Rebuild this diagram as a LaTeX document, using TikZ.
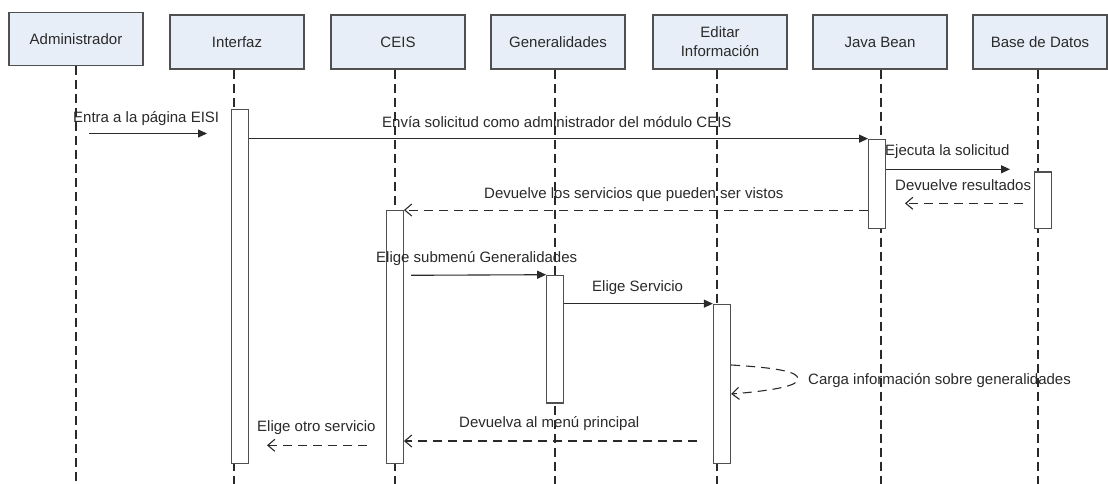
\documentclass[tikz,border=0pt]{standalone}
\usepackage{fontspec}
\setmainfont{Liberation Sans}
\usetikzlibrary{arrows.meta}
\definecolor{boxfill}{HTML}{E8EEF8}
\definecolor{edge}{HTML}{505050}
\definecolor{ink}{HTML}{2A2A2A}
\begin{document}
\begin{tikzpicture}[x=1pt,y=-1pt,
  font=\fontsize{15}{19}\selectfont,
  actor/.style={draw=edge, line width=1.3pt, fill=boxfill, minimum width=134pt, minimum height=54pt, inner sep=0pt, text=ink, align=center},
  life/.style={draw=ink, line width=1.2pt, dash pattern=on 9pt off 5pt},
  act/.style={draw=edge, line width=1.3pt, fill=white, minimum width=17pt, inner sep=0pt},
  call/.style={draw=ink, line width=1.1pt, -{Triangle[length=9pt,width=8pt]}},
  ret/.style={draw=ink, line width=1.1pt, dash pattern=on 9pt off 6pt, -{Straight Barb[length=7pt,width=12pt]}},
  lbl/.style={text=ink, inner sep=0pt, anchor=base west}
]
\useasboundingbox (0,0) rectangle (1108,484);
\fill[white] (0,0) rectangle (1108,484);

% actors
\node[actor, minimum height=53pt] (A) at (76,38.7) {Administrador};
\node[actor] (I) at (237,42) {Interfaz};
\node[actor] (C) at (398,42) {CEIS};
\node[actor] (G) at (558,42) {Generalidades};
\node[actor] (E) at (720,42) {Editar\\Información};
\node[actor] (J) at (880,42) {Java Bean};
\node[actor] (B) at (1040,42) {Base de Datos};

% lifeline ends
\coordinate (lA) at (76,484);
\coordinate (lI) at (234,484);
\coordinate (lC) at (395,484);
\coordinate (lG) at (555,484);
\coordinate (lE) at (717,484);
\coordinate (lJ) at (881,484);
\coordinate (lB) at (1038,484);

\draw[life] (A.south -| lA) -- (lA);
\draw[life] (I.south -| lI) -- (lI);
\draw[life] (C.south -| lC) -- (lC);
\draw[life] (G.south -| lG) -- (lG);
\draw[life] (E.south -| lE) -- (lE);
\draw[life] (J.south -| lJ) -- (lJ);
\draw[life] (B.south -| lB) -- (lB);

% activations
\node[act, minimum height=354.4pt] (aI) at (240,286.5) {};
\node[act, minimum height=89pt] (aJ) at (877.2,183.8) {};
\node[act, minimum height=56.3pt] (aB) at (1043.3,200.2) {};
\node[act, minimum height=253pt] (aC) at (394.8,337.2) {};
\node[act, minimum height=127.7pt] (aG) at (555.3,339.2) {};
\node[act, minimum height=159.4pt] (aE) at (722,384) {};

% free message ends
\coordinate (e1) at (89,133.5);
\coordinate (e2) at (207,133.5);
\coordinate (ej) at (1010,169.3);
\coordinate (dr1) at (1023,203.3);
\coordinate (dr2) at (905,203.3);
\coordinate (s1) at (411,275.3);
\coordinate (d1) at (697,441);
\coordinate (r1) at (367,445.3);
\coordinate (r2) at (267,445.3);

% messages
\draw[call] (e1) -- (e2);
\draw[call] (aI.east |- aJ.north) -- (aJ.north west);
\draw[call] (aJ.east |- ej) -- (ej);
\draw[ret] (dr1) -- (dr2);
\draw[ret] (aJ.west |- aC.north) -- (aC.north east);
\draw[call] (s1) -- (aG.north west);
\draw[call] (aG.east |- aE.north) -- (aE.north west);
\coordinate (sm1) at (aE.east |- 0,365);
\coordinate (sm2) at (aE.east |- 0,394);
\draw[ret] (sm1) .. controls (780,368) and (798,372) .. (798,379) .. controls (798,385) and (780,390) .. (sm2);
\draw[ret] (d1) -- (aC.east |- d1);
\draw[ret] (r1) -- (r2);

% labels
\node[lbl] (t1) at (73,122.4) {Entra a la página EISI};
\node[lbl] (t2) at (382,127.4) {Envía solicitud como administrador del módulo CEIS};
\node[lbl] (t3) at (885,156) {Ejecuta la solicitud};
\node[lbl] (t4) at (895,190.4) {Devuelve resultados};
\node[lbl] (t5) at (484,198.4) {Devuelve los servicios que pueden ser vistos};
\node[lbl] (t6) at (376,262.4) {Elige submenú Generalidades};
\node[lbl] (t7) at (592,291.4) {Elige Servicio};
\node[lbl] (t8) at (808,384.4) {Carga información sobre generalidades};
\node[lbl] (t9) at (459,427.4) {Devuelva al menú principal};
\node[lbl] (t10) at (257,431.7) {Elige otro servicio};
\end{tikzpicture}
\end{document}
